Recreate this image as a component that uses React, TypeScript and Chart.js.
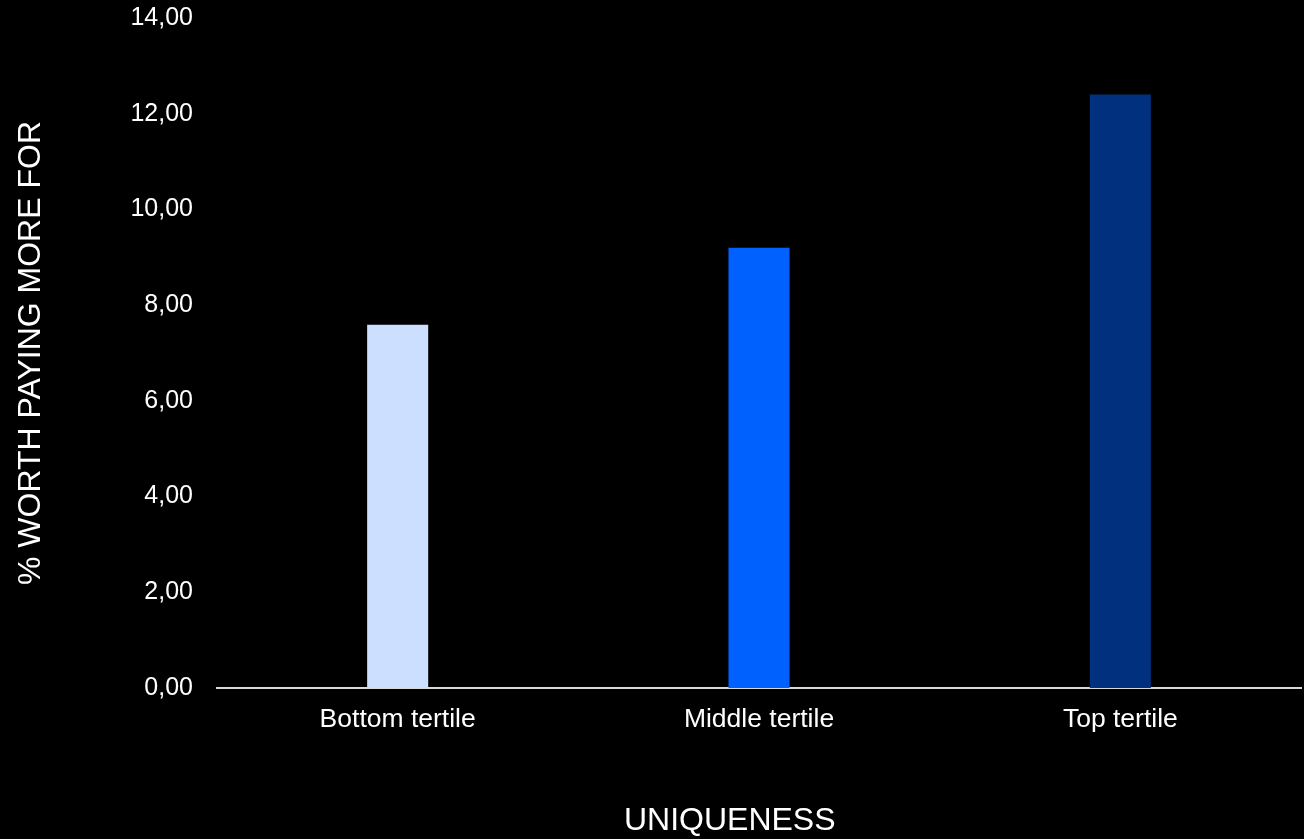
import React, { useEffect, useRef } from "react";
import { Chart, registerables } from "chart.js";

Chart.register(...registerables);

const categories = ["Bottom tertile", "Middle tertile", "Top tertile"];
const values = [7.59, 9.2, 12.4];
const barColors = ["#cddfff", "#0061ff", "#00307e"];
const yTitle = "% WORTH PAYING MORE FOR";
const xTitle = "UNIQUENESS";
const yMax = 14;
const yStep = 2;

const FONT = '"Liberation Sans", Arial, Helvetica, sans-serif';
const TEXT = "#ffffff";

export default function App() {
  const ref = useRef<HTMLCanvasElement | null>(null);

  useEffect(() => {
    document.body.style.margin = "0";
    document.body.style.background = "#000000";
    const canvas = ref.current;
    if (!canvas) return;

    const xTitlePlugin = {
      id: "xTitlePlugin",
      afterDraw(chart: any) {
        const { ctx, chartArea } = chart;
        ctx.save();
        ctx.fillStyle = TEXT;
        ctx.font = `32px ${FONT}`;
        ctx.textAlign = "center";
        ctx.textBaseline = "middle";
        const x = chartArea.left + (chartArea.right - chartArea.left) * 0.473;
        ctx.fillText(xTitle, x, chartArea.bottom + 133);
        ctx.restore();
      },
    };

    const chart = new Chart(canvas, {
      type: "bar",
      data: {
        labels: categories,
        datasets: [
          {
            data: values,
            backgroundColor: barColors,
            borderWidth: 0,
            barPercentage: 1,
            categoryPercentage: 0.169,
          },
        ],
      },
      options: {
        responsive: false,
        animation: false,
        layout: { padding: { top: 18, right: 3, left: 0, bottom: 0 } },
        plugins: {
          legend: { display: false },
          tooltip: { enabled: false },
          title: { display: false },
        },
        scales: {
          x: {
            grid: { display: false, drawTicks: false },
            border: { display: true, color: "#d9d9d9", width: 2 },
            ticks: {
              color: TEXT,
              font: { family: FONT, size: 26.5 },
              padding: 16,
              maxRotation: 0,
            },
            afterFit(scale: any) {
              scale.height = 151;
              scale.paddingLeft = 0;
              scale.paddingRight = 0;
            },
          },
          y: {
            min: 0,
            max: yMax,
            grid: { display: false, drawTicks: false },
            border: { display: false },
            ticks: {
              stepSize: yStep,
              color: TEXT,
              font: { family: FONT, size: 25 },
              padding: 24,
              callback: (v: any) => Number(v).toFixed(2).replace(".", ","),
            },
            title: {
              display: true,
              text: yTitle,
              color: TEXT,
              font: { family: FONT, size: 32, lineHeight: 1.2 },
              padding: { top: 12, bottom: 0 },
            },
            afterFit(scale: any) {
              scale.width = 217;
              scale.paddingTop = 0;
              scale.paddingBottom = 0;
            },
          },
        },
      },
      plugins: [xTitlePlugin],
    });

    return () => chart.destroy();
  }, []);

  return (
    <div style={{ width: 1304, height: 839, background: "#000000" }}>
      <canvas ref={ref} width={1304} height={839} style={{ display: "block" }} />
    </div>
  );
}
